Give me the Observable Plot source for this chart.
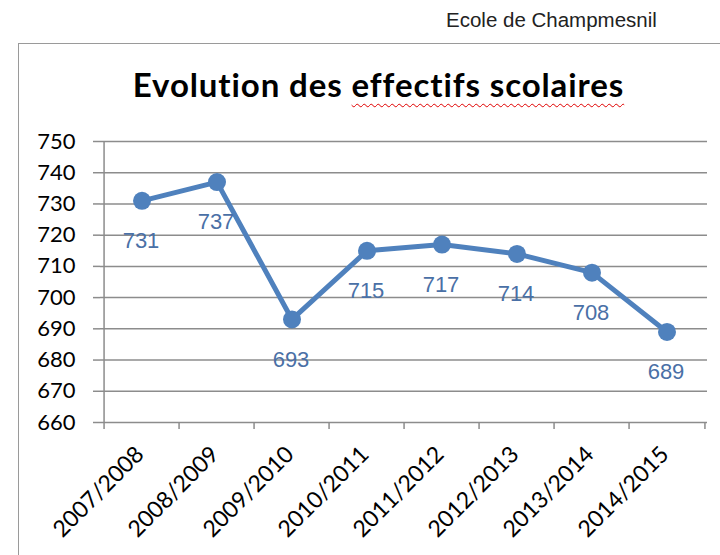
<!DOCTYPE html>
<html>
<head>
<meta charset="utf-8">
<script src="https://cdn.jsdelivr.net/npm/d3@7"></script>
<script src="https://cdn.jsdelivr.net/npm/@observablehq/plot@0.6"></script>
<style>
  html, body { margin: 0; padding: 0; background: #fff; }
  #page { position: relative; width: 720px; height: 555px; overflow: hidden; background: #fff; }
  #source { position: absolute; left: 446px; top: 8px; font: 20.5px "Liberation Sans", Arial, sans-serif; color: #222; white-space: nowrap; }
  #frame { position: absolute; left: 18px; top: 43px; width: 720px; height: 600px; border-left: 1.5px solid #9a9a9a; border-top: 1.5px solid #9a9a9a; }
  #title { position: absolute; left: 0; top: 65px; width: 757px; text-align: center; font: 700 33px Lato, "Open Sans", sans-serif; letter-spacing: 0.9px; line-height: 38px; color: #000; white-space: nowrap; }
  #title .sp { text-decoration: underline wavy #e00000; text-decoration-thickness: 1px; text-underline-offset: 6px; }
  #chart { position: absolute; left: 0; top: 120px; }
</style>
</head>
<body>
<div id="page">
  <div id="source">Ecole de Champmesnil</div>
  <div id="frame"></div>
  <div id="title">Evolution des <span class="sp">effectifs scolaires</span></div>
  <div id="chart"></div>
</div>
<script>
const years = ["2007/2008", "2008/2009", "2009/2010", "2010/2011", "2011/2012", "2012/2013", "2013/2014", "2014/2015"];
const effectifs = [731, 737, 693, 715, 717, 714, 708, 689];
const yTicks = [660, 670, 680, 690, 700, 710, 720, 730, 740, 750];

const data = years.map((y, i) => ({year: y, value: effectifs[i]}));

const W = 720, H = 435, mL = 100, mR = 13, mT = 21, mB = 133;
const bw = (W - mL - mR) / years.length;
const gridColor = "#8c8c8c";
const blue = "#4F81BD";

const plot = Plot.plot({
  width: W,
  height: H,
  marginLeft: mL,
  marginRight: mR,
  marginTop: mT,
  marginBottom: mB,
  style: {background: "transparent", overflow: "visible"},
  x: {type: "band", domain: years, padding: 0, axis: null, label: null},
  y: {domain: [yTicks[0], yTicks[yTicks.length - 1]], axis: null, label: null},
  marks: [
    Plot.gridY(yTicks, {stroke: gridColor, strokeOpacity: 1, strokeWidth: 1.5}),
    Plot.ruleX([years[0]], {y1: yTicks[0], y2: yTicks[yTicks.length - 1], dx: -bw / 2, stroke: gridColor, strokeWidth: 1.5}),
    Plot.axisY({ticks: yTicks, label: null, tickSize: 7, tickPadding: 18, stroke: gridColor, strokeWidth: 1.5, fill: "#000", fontSize: 22, fontFamily: "Lato, sans-serif", tickFormat: d => String(d)}),
    Plot.axisX({ticks: years, label: null, tickSize: 7, dx: -bw / 2, stroke: gridColor, strokeWidth: 1.5, tickFormat: () => ""}),
    Plot.axisX({ticks: [years[years.length - 1]], label: null, tickSize: 7, dx: bw / 2, stroke: gridColor, strokeWidth: 1.5, tickFormat: () => ""}),
    Plot.axisX({ticks: years, label: null, tickSize: 0, tickPadding: 28, tickRotate: -45, dx: -2, fill: "#000", fontSize: 23, fontFamily: "Lato, sans-serif"}),
    Plot.line(data, {x: "year", y: "value", stroke: blue, strokeWidth: 5, strokeLinejoin: "round"}),
    Plot.dot(data, {x: "year", y: "value", r: 9, fill: blue, stroke: "none"}),
    Plot.text(data, {x: "year", y: "value", text: d => String(d.value), dy: 40, dx: -1, fill: "#4A70A6", fontSize: 22, fontFamily: "'Liberation Sans', Arial, sans-serif"})
  ]
});
document.getElementById("chart").appendChild(plot);
</script>
</body>
</html>
